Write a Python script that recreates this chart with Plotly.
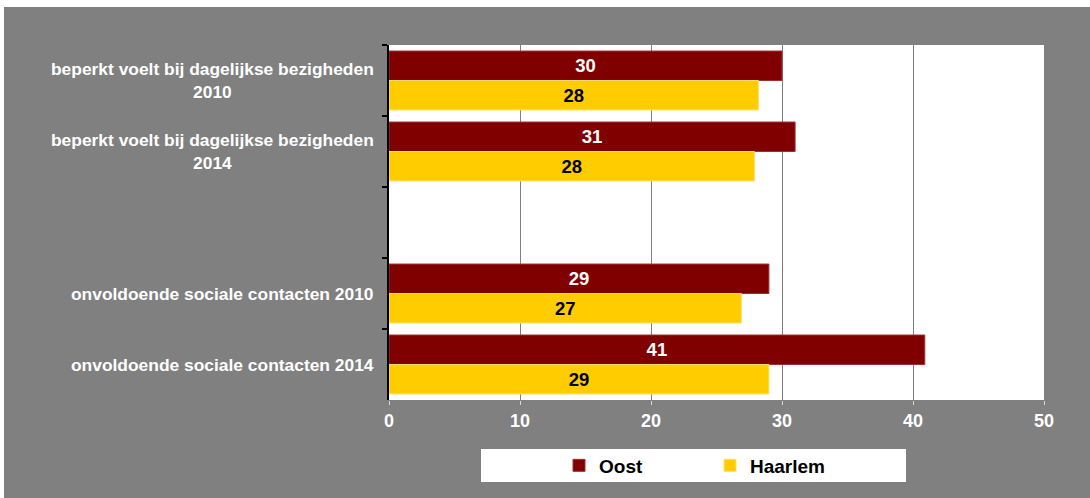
import plotly.graph_objects as go

categories = [
    "beperkt voelt bij dagelijkse bezigheden<br>2010",
    "beperkt voelt bij dagelijkse bezigheden<br>2014",
    " ",
    "onvoldoende sociale contacten 2010",
    "onvoldoende sociale contacten 2014",
]
oost = [30.0, 31.0, None, 29.0, 40.9]
haarlem = [28.2, 27.9, None, 26.9, 29.0]
x_ticks = [0, 10, 20, 30, 40, 50]

OX, OY = 4, 7            # page offset of the figure
W, H = 1090 - OX, 498 - OY
L, R, T, B = 389 - OX, 46, 45 - OY, 98
pw, ph = W - L - R, H - T - B

def px2x(p):  # screen px -> paper x
    return (p - OX - L) / pw

def px2y(p):  # screen px -> paper y
    return (H - B - (p - OY)) / ph

FONT = "Liberation Sans, Arial, sans-serif"

fig = go.Figure()
fig.add_trace(go.Bar(
    y=categories, x=oost, name="Oost", orientation="h",
    marker=dict(color="#800000", line=dict(color="#A03030", width=1)),
    text=[None if v is None else f"{v:.0f}" for v in oost],
    textposition="inside", insidetextanchor="middle",
    textfont=dict(color="white", size=18.5, family=FONT, weight="bold"),
    constraintext="none",
))
fig.add_trace(go.Bar(
    y=categories, x=haarlem, name="Haarlem", orientation="h",
    marker=dict(color="#FFCC00", line=dict(color="#FFE066", width=1)),
    text=[None if v is None else f"{v:.0f}" for v in haarlem],
    textposition="inside", insidetextanchor="middle",
    textfont=dict(color="black", size=18.5, family=FONT, weight="bold"),
    constraintext="none",
))

annotations = []
for c in categories:
    if c.strip():
        annotations.append(dict(
            x=0, xref="paper", y=c, yref="y", text=c, showarrow=False,
            xanchor="right", xshift=-13, align="center",
            font=dict(color="white", size=17.4, family=FONT, weight="bold"),
        ))

shapes = [
    dict(type="rect", xref="paper", yref="paper",
         x0=px2x(481), x1=px2x(906), y0=px2y(482), y1=px2y(449),
         fillcolor="white", line=dict(width=0), layer="below"),
]

fig.update_layout(
    width=W, height=H,
    margin=dict(l=L, r=R, t=T, b=B, pad=0),
    paper_bgcolor="#808080", plot_bgcolor="white",
    barmode="group", bargap=0.17, bargroupgap=0,
    showlegend=True,
    legend=dict(
        orientation="h", x=px2x(710), y=px2y(465.5),
        xanchor="center", yanchor="middle",
        bgcolor="rgba(0,0,0,0)",
        font=dict(color="black", size=19, family=FONT, weight="bold"),
        entrywidth=106, entrywidthmode="pixels",
        traceorder="normal",
    ),
    annotations=annotations,
    shapes=shapes,
    xaxis=dict(
        range=[0, 50], tickvals=x_ticks, showgrid=True,
        gridcolor="#808080", gridwidth=1, zeroline=False,
        showline=False, ticks="outside", ticklen=4, tickcolor="#D9D9D9",
        tickwidth=1,
        tickfont=dict(color="white", size=18, family=FONT, weight="bold"),
        fixedrange=True,
    ),
    yaxis=dict(
        categoryorder="array", categoryarray=categories,
        autorange="reversed", showticklabels=False,
        tickson="boundaries", ticks="outside", ticklen=5,
        tickcolor="black", tickwidth=2,
        showline=True, linecolor="black", linewidth=2,
        showgrid=False, zeroline=False, fixedrange=True,
    ),
)

fig.write_html(
    "out.html",
    config={"displayModeBar": False},
    post_script=(
        "document.body.style.margin='0';"
        "document.body.style.padding='%dpx 0 0 %dpx';"
        "document.body.style.overflow='hidden';" % (OY, OX)
    ),
)
